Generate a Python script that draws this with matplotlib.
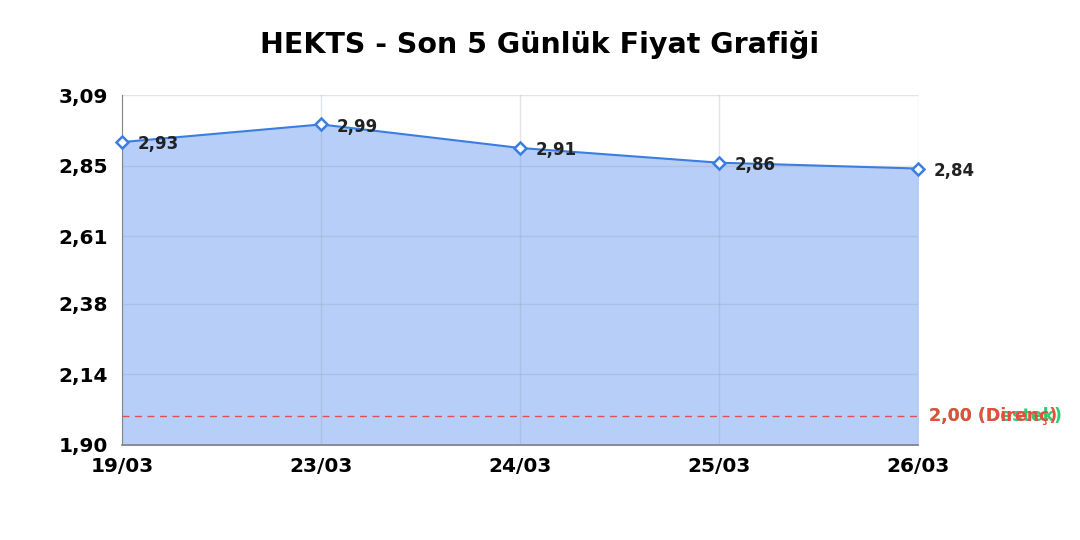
import matplotlib
matplotlib.use('Agg')
import matplotlib.pyplot as plt

plt.rcParams['font.family'] = ['DejaVu Sans']

# Price data
dates = ['19/03', '23/03', '24/03', '25/03', '26/03']
prices = [2.93, 2.99, 2.91, 2.86, 2.84]
y_ticks = [1.90, 2.14, 2.38, 2.61, 2.85, 3.09]
support = 2.00
resistance = 2.00

def tr(v):
    return f'{v:.2f}'.replace('.', ',')

fig = plt.figure(figsize=(10.8, 5.4), dpi=100)
ax = fig.add_axes([0.113, 0.176, 0.737, 0.648])

x = list(range(len(dates)))
ax.fill_between(x, prices, y_ticks[0], color='#b7cff8', zorder=1)
ax.plot(x, prices, color='#3b7de0', lw=1.5, marker='D', ms=6.5,
        mfc='white', mec='#3b7de0', mew=1.8, zorder=4, clip_on=False)

for xi, p in zip(x, prices):
    ax.annotate(tr(p), (xi, p), xytext=(11.5, -1.5), textcoords='offset points',
                fontsize=12, fontweight='bold', va='center', ha='left',
                color='#222222', zorder=5)

# Support / resistance line
ax.axhline(support, color='#e05050', lw=1, ls=(0, (5, 4)), zorder=3)
ax.annotate(f'{tr(support)} (Destek)', (1, support), xycoords=('axes fraction', 'data'),
            xytext=(8, 0), textcoords='offset points', color='#2ecc71',
            fontsize=12.5, fontweight='bold', va='center', ha='left', annotation_clip=False)
ax.annotate(f'{tr(resistance)} (Direnç)', (1, resistance), xycoords=('axes fraction', 'data'),
            xytext=(8, 0), textcoords='offset points', color='#e74c3c',
            fontsize=12.5, fontweight='bold', va='center', ha='left', annotation_clip=False)

ax.set_xlim(0, len(dates) - 1)
ax.set_ylim(y_ticks[0], y_ticks[-1])
ax.set_xticks(x)
ax.set_xticklabels(dates, fontsize=14.5, fontweight='bold')
ax.set_yticks(y_ticks)
ax.set_yticklabels([tr(v) for v in y_ticks], fontsize=14.5, fontweight='bold')
ax.tick_params(axis='x', length=0, pad=9)
ax.tick_params(axis='y', length=0, pad=10)

ax.grid(True, color='#8899aa', alpha=0.25, lw=1, zorder=2)
ax.set_axisbelow(False)
for s in ['top', 'right']:
    ax.spines[s].set_visible(False)
ax.spines['left'].set_color('#808080')
ax.spines['bottom'].set_color('#808080')
ax.spines['bottom'].set_linewidth(1.2)

fig.suptitle('HEKTS - Son 5 Günlük Fiyat Grafiği', fontsize=20.5, fontweight='bold',
             y=0.918, va='center')

fig.savefig('out.png', dpi=100)
